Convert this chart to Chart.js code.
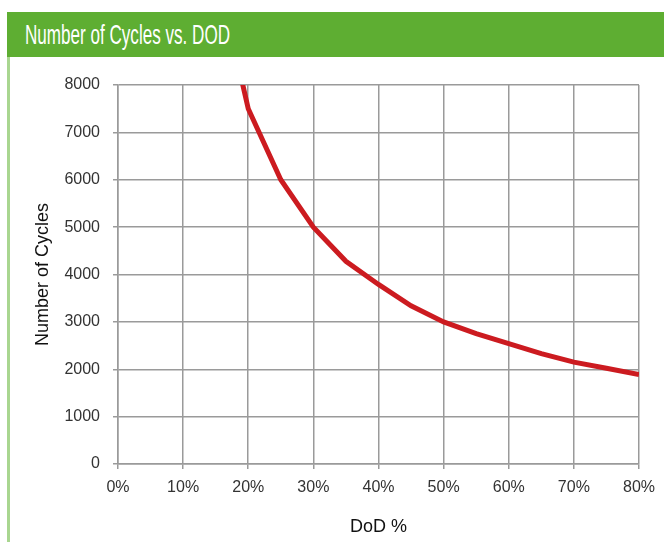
<!DOCTYPE html>
<html>
<head>
<meta charset="utf-8">
<script src="https://cdn.jsdelivr.net/npm/chart.js@4"></script>
<style>
  html, body { margin: 0; padding: 0; background: #fff; }
  body { width: 664px; height: 542px; position: relative; overflow: hidden; }
  #box { position: absolute; left: 7px; top: 12px; right: 0; bottom: 0; border-left: 3px solid #a9d690; }
  #hdr { position: absolute; left: -3px; top: 0; right: 0; height: 45px; background: #5eae32; }
  #hdr span {
    position: absolute; left: 18px; top: 7px;
    font-family: 'Liberation Sans', Arial, sans-serif;
    font-size: 28px; color: #fff; white-space: nowrap;
    transform: scaleX(0.61); transform-origin: left center;
  }
  #wrap { position: absolute; left: 0; top: 57px; width: 664px; height: 485px; }
</style>
</head>
<body>
<div id="box"><div id="hdr"><span>Number of Cycles vs. DOD</span></div></div>
<div id="wrap"><canvas id="chart"></canvas></div>
<script>
// DoD (%) and number of cycles
const dod = [15, 20, 25, 30, 35, 40, 45, 50, 55, 60, 65, 70, 75, 80];
const cycles = [10500, 7500, 6000, 5000, 4280, 3790, 3340, 3000, 2750, 2540, 2330, 2150, 2020, 1890];

const xTicks = [0, 10, 20, 30, 40, 50, 60, 70, 80];
const yMax = 8000;

const gridColor = '#9a9a9a';
const font = "'Liberation Sans', Arial, sans-serif";

const ctx = document.getElementById('chart').getContext('2d');
new Chart(ctx, {
  type: 'line',
  data: {
    datasets: [{
      data: dod.map((d, i) => ({ x: d, y: cycles[i] })),
      borderColor: '#cc1b20',
      borderWidth: 5,
      pointRadius: 0,
      tension: 0,
      clip: 0,
      fill: false
    }]
  },
  options: {
    responsive: true,
    maintainAspectRatio: false,
    animation: false,
    layout: { padding: { top: 28, right: 21, left: 0, bottom: 0 } },
    plugins: { legend: { display: false }, tooltip: { enabled: false } },
    scales: {
      x: {
        type: 'linear',
        min: 0,
        max: 80,
        afterBuildTicks: (scale) => { scale.ticks = xTicks.map(v => ({ value: v })); },
        afterFit: (scale) => { scale.height = 78; },
        grid: { color: gridColor, lineWidth: 1.5, tickLength: 5 },
        border: { color: gridColor, width: 1.5 },
        ticks: {
          callback: (v) => v + '%',
          color: '#333',
          padding: 9,
          maxRotation: 0,
          font: { family: font, size: 16 }
        },
        title: {
          display: true,
          text: 'DoD %',
          color: '#111',
          padding: { top: 9 },
          font: { family: font, size: 18 }
        }
      },
      y: {
        min: 0,
        max: yMax,
        afterFit: (scale) => { scale.width = 118; },
        grid: { color: gridColor, lineWidth: 1.5, tickLength: 5 },
        border: { color: gridColor, width: 1.5 },
        ticks: {
          stepSize: 1000,
          callback: (v) => String(v),
          color: '#333',
          padding: 13,
          font: { family: font, size: 16 }
        },
        title: {
          display: true,
          text: 'Number of Cycles',
          color: '#111',
          padding: { top: 32 },
          font: { family: font, size: 18 }
        }
      }
    }
  }
});
</script>
</body>
</html>
